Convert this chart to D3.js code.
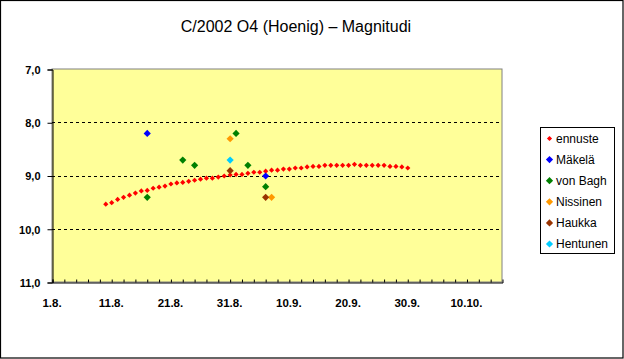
<!DOCTYPE html>
<html><head><meta charset="utf-8">
<script src="https://cdn.jsdelivr.net/npm/d3@7"></script>
<style>
html,body{margin:0;padding:0;background:#fff;}
svg{display:block;font-family:"Liberation Sans",Arial,sans-serif;}
</style></head>
<body><svg id="c" width="624" height="359"></svg>
<script>
// ---- data ----
const title = "C/2002 O4 (Hoenig) – Magnitudi";
const xTickDates = ["2002-08-01","2002-08-11","2002-08-21","2002-08-31","2002-09-10","2002-09-20","2002-09-30","2002-10-10"];
const yTicks = [7, 8, 9, 10, 11];
const gridValues = [8, 9, 10];
const ennusteStart = "2002-08-10";
const ennusteValues = [9.53,9.50,9.44,9.40,9.36,9.32,9.28,9.27,9.23,9.21,9.19,9.15,9.13,9.12,9.10,9.08,9.06,9.04,9.04,9.02,9.00,8.98,
  8.97,8.97,8.95,8.93,8.93,8.91,8.89,8.89,8.87,8.87,8.85,8.85,8.83,8.82,8.82,8.80,8.80,8.80,8.80,8.80,8.78,8.80,8.80,8.80,8.80,8.80,8.82,8.82,8.83,8.85];
const makelaDates = ["2002-08-17","2002-09-06"];
const makelaValues = [8.2, 9.0];
const vonBaghDates = ["2002-08-17","2002-08-23","2002-08-25","2002-09-01","2002-09-03","2002-09-06"];
const vonBaghValues = [9.4, 8.7, 8.8, 8.2, 8.8, 9.2];
const nissinenDates = ["2002-08-31","2002-09-07"];
const nissinenValues = [8.3, 9.4];
const haukkaDates = ["2002-08-31","2002-09-06"];
const haukkaValues = [8.9, 9.4];
const hentunenDates = ["2002-08-31"];
const hentunenValues = [8.7];
const seriesNames = ["ennuste","Mäkelä","von Bagh","Nissinen","Haukka","Hentunen"];
const seriesColors = ["#FF0000","#0000FF","#008000","#FF9900","#993300","#00CCFF"];

// ---- layout ----
const parse = d3.utcParse("%Y-%m-%d");
const svg = d3.select("#c");
const L = 52, T = 69, R = 502, B = 282;
const x = d3.scaleUtc().domain([parse("2002-08-01"), parse("2002-10-16")]).range([L, R]);
const y = d3.scaleLinear().domain([7, 11]).range([T, B]);

// outer border
svg.append("rect").attr("x",0.5).attr("y",0.5).attr("width",622.5).attr("height",357.5)
  .attr("fill","#fff").attr("stroke","#000").attr("stroke-width",1.2);

// title
svg.append("text").attr("x",296).attr("y",31.5).attr("text-anchor","middle")
  .attr("font-size","16px").attr("fill","#000").text(title);

// plot area
svg.append("rect").attr("x",L).attr("y",T).attr("width",R-L).attr("height",B-T)
  .attr("fill","#FFFF99").attr("stroke","#808080").attr("stroke-width",1);

// grid
svg.append("g").selectAll("line").data(gridValues).join("line")
  .attr("x1",L).attr("x2",R).attr("y1",d=>Math.round(y(d))+0.5).attr("y2",d=>Math.round(y(d))+0.5)
  .attr("stroke","#000").attr("stroke-dasharray","3,3").attr("stroke-width",1);

// y axis
const yAxis = d3.axisLeft(y).tickValues(yTicks).tickSize(5).tickPadding(3)
  .tickFormat(d => d3.format(".1f")(d).replace(".", ","));
const gy = svg.append("g").attr("transform",`translate(${L+0.5},0.5)`).call(yAxis);
gy.select(".domain").attr("stroke","#000");
gy.selectAll(".tick line").attr("stroke","#000");
gy.selectAll("text").attr("font-size","11px").attr("font-weight","bold").attr("fill","#000")
  .attr("font-family","'Liberation Sans',Arial,sans-serif").attr("x",-12).attr("dy","0.36em");

// x axis: minor inward ticks every 2 days, labels every 10 days
const minor = d3.utcDay.range(parse("2002-08-01"), parse("2002-10-16")).filter((d,i)=>i%2===0);
const xAxis = d3.axisBottom(x).tickValues(minor).tickSize(-3).tickFormat("");
const gx = svg.append("g").attr("transform",`translate(0.5,${B+0.5})`).call(xAxis);
gx.select(".domain").attr("stroke","#000");
gx.selectAll(".tick line").attr("stroke","#000");
const fmt = d3.utcFormat("%-d.%-m.");
svg.append("g").selectAll("text").data(xTickDates.map(parse)).join("text")
  .attr("x",d=>x(d)).attr("y",307).attr("text-anchor","middle")
  .attr("font-size","11.5px").attr("font-weight","bold").attr("fill","#000").text(d=>fmt(d));

// markers
function diamond(cx, cy, r){ return `M${cx},${cy-r}L${cx+r},${cy}L${cx},${cy+r}L${cx-r},${cy}Z`; }
const ennDates = d3.utcDay.range(parse(ennusteStart), d3.utcDay.offset(parse(ennusteStart), ennusteValues.length));
const ennuste = ennusteValues.map((v,i)=>({d:ennDates[i], v}));
svg.append("g").selectAll("path").data(ennuste).join("path")
  .attr("d",p=>diamond(x(p.d)+0.5, y(p.v)+0.5, 2.6)).attr("fill",seriesColors[0]);

const obs = [
  [makelaDates, makelaValues, 1],
  [vonBaghDates, vonBaghValues, 2],
  [nissinenDates, nissinenValues, 3],
  [haukkaDates, haukkaValues, 4],
  [hentunenDates, hentunenValues, 5]
];
obs.forEach(([ds, vs, ci]) => {
  svg.append("g").selectAll("path").data(vs.map((v,i)=>({d:parse(ds[i]), v}))).join("path")
    .attr("d",p=>diamond(x(p.d)+0.5, y(p.v)+0.5, 3.6)).attr("fill",seriesColors[ci]);
});

// legend
const lg = svg.append("g");
lg.append("rect").attr("x",540.5).attr("y",127.5).attr("width",74).attr("height",126)
  .attr("fill","#fff").attr("stroke","#000").attr("stroke-width",1);
seriesNames.forEach((n,i)=>{
  const yy = 138.5 + i*21.1;
  lg.append("path").attr("d",diamond(549.5, yy, i===0?2.6:3.6)).attr("fill",seriesColors[i]);
  lg.append("text").attr("x",556).attr("y",yy+4.3).attr("font-size","12px").attr("fill","#000").text(n);
});
</script></body></html>
